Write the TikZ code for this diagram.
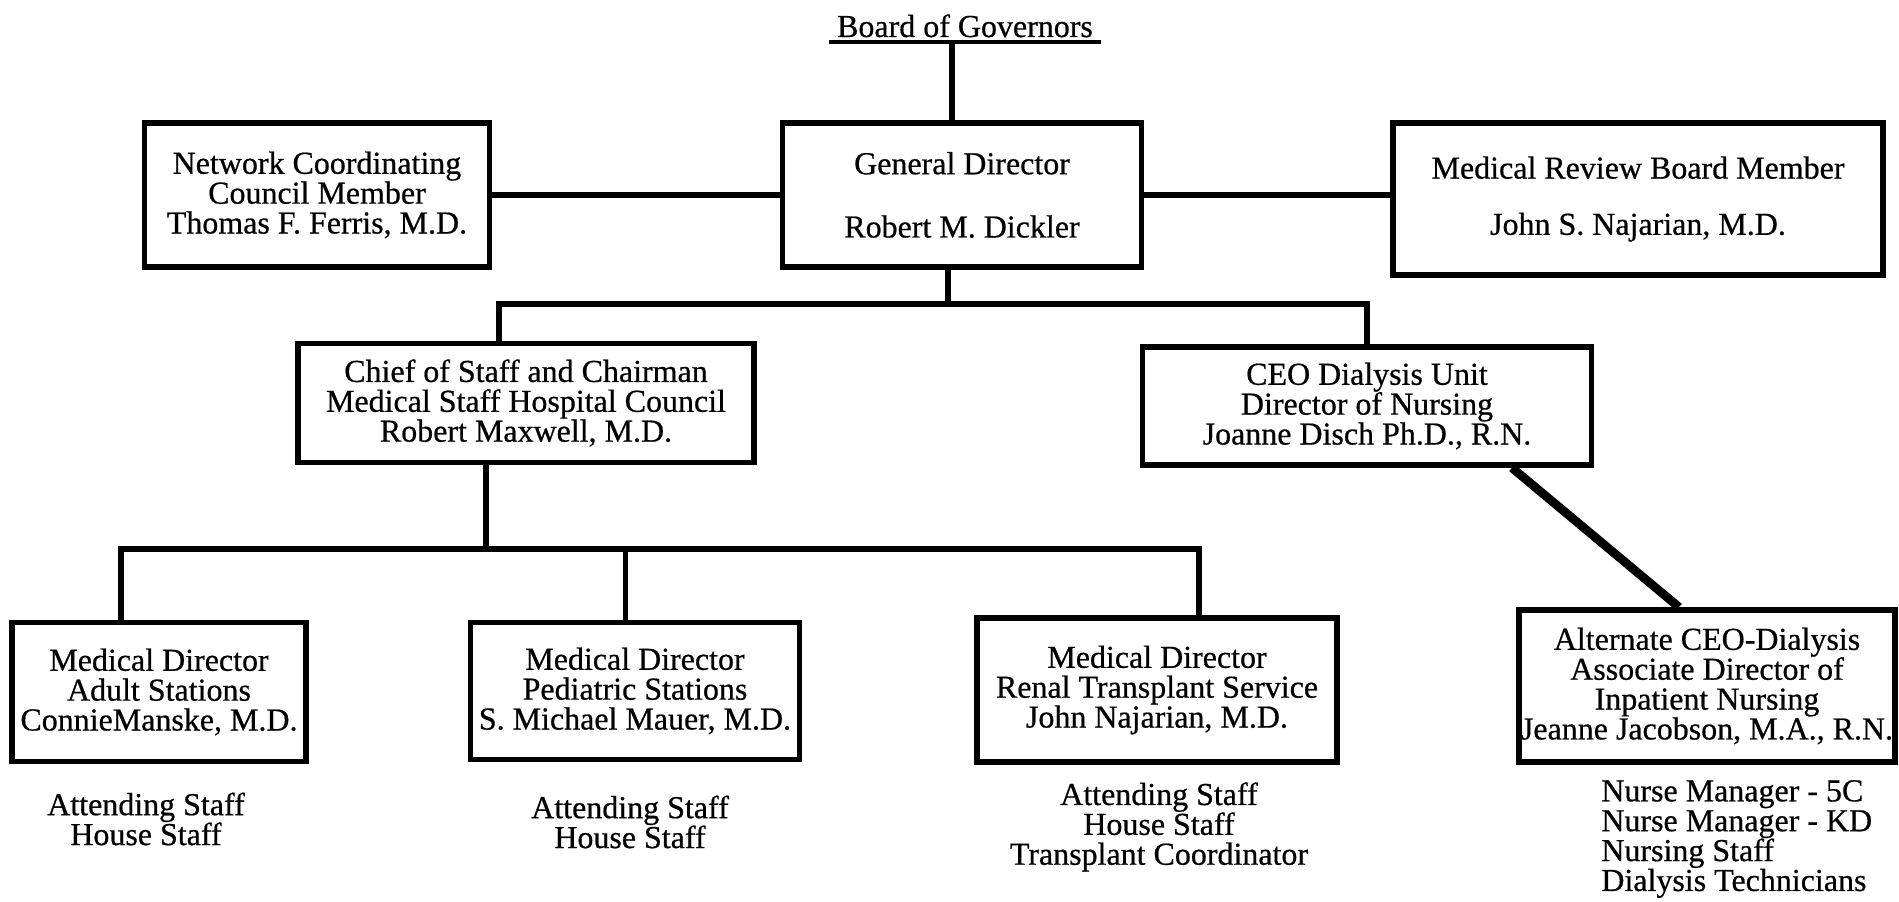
\documentclass[tikz,border=0pt]{standalone}
\usepackage{fontspec}
\setmainfont{Liberation Serif}[FakeBold=0.6]

\begin{document}
\begin{tikzpicture}[x=0.02cm, y=-0.02cm,
   every node/.style={font=\fontsize{18.2pt}{17pt}\selectfont},
   box/.style={draw, line width=3.2pt, align=center, inner sep=0pt},
   staff/.style={align=center, inner sep=0pt},
   conn/.style={line width=3.2pt},
   diag/.style={line width=5pt}]
   \useasboundingbox (0,0) rectangle (1899,902);

   % Top
   \node[anchor=base, inner xsep=0.15cm] (board) at (965,37) {Board of Governors};
   \coordinate (bline) at ([yshift=-0.1cm]board.base);
   \draw[line width=2.6pt] ([yshift=-0.1cm]board.base west) -- ([yshift=-0.1cm]board.base east);

   \node[box, minimum width=7.18cm, minimum height=2.88cm] (gd) at (962,195)
      {General Director\\[19pt]Robert M. Dickler};
   \node[box, minimum width=6.9cm, minimum height=2.88cm] (net) at (317,195)
      {Network Coordinating\\Council Member\\Thomas F. Ferris, M.D.};
   \node[box, minimum width=9.8cm, minimum height=3.04cm] (mrb) at (1638,199)
      {Medical Review Board Member\\[15pt]John S. Najarian, M.D.};

   % Second row
   \node[box, minimum width=9.12cm, minimum height=2.38cm] (chief) at (526,403)
      {Chief of Staff and Chairman\\Medical Staff Hospital Council\\Robert Maxwell, M.D.};
   \node[box, minimum width=8.98cm, minimum height=2.36cm] (ceo) at (1367,406)
      {CEO Dialysis Unit\\Director of Nursing\\Joanne Disch Ph.D., R.N.};

   % Third row
   \node[box, minimum width=5.88cm, minimum height=2.78cm] (adult) at (159,692)
      {Medical Director\\Adult Stations\\ConnieManske, M.D.};
   \node[box, minimum width=6.58cm, minimum height=2.74cm] (ped) at (635,691)
      {Medical Director\\Pediatric Stations\\S. Michael Mauer, M.D.};
   \node[box, minimum width=7.2cm, minimum height=2.88cm] (renal) at (1157,690)
      {Medical Director\\Renal Transplant Service\\John Najarian, M.D.};
   \node[box, minimum width=7.52cm, minimum height=3.04cm] (alt) at (1707,686)
      {Alternate CEO-Dialysis\\Associate Director of\\Inpatient Nursing\\Jeanne Jacobson, M.A., R.N.};

   % Staff under the boxes
   \node[staff] (adultstaff) at (146,819) {Attending Staff\\House Staff};
   \node[staff] (pedstaff) at (630,822) {Attending Staff\\House Staff};
   \node[staff] (renalstaff) at (1159,827) {Attending Staff\\House Staff\\Transplant Coordinator};
   \node[staff, align=left, anchor=west] (altstaff) at (1601,839)
      {Nurse Manager - 5C\\Nurse Manager - KD\\Nursing Staff\\Dialysis Technicians};

   % Connections
   \draw[conn] ([xshift=-0.2cm]gd.north) -- ([xshift=-0.2cm]gd.north |- bline);
   \draw[conn] (net.east) -- (gd.west);
   \draw[conn] (gd.east) -- (gd.east -| mrb.west);
   \draw[conn] ([xshift=-0.28cm]gd.south) -- ++(0,-0.68cm) coordinate (bar1);
   \draw[conn] ([xshift=-0.54cm]chief.north) |- (bar1) -| (ceo.north);
   \draw[conn] ([xshift=-0.8cm]chief.south) -- ++(0,-1.68cm) coordinate (bar2);
   \draw[conn] ([xshift=-0.76cm]adult.north) |- (bar2) -| ([xshift=0.84cm]renal.north);
   \draw[conn] ([xshift=-0.19cm]ped.north) -- ([xshift=-0.19cm]ped.north |- bar2);
   \draw[diag] ([xshift=2.9cm]ceo.south) -- ([xshift=-0.56cm]alt.north);

\end{tikzpicture}
\end{document}
